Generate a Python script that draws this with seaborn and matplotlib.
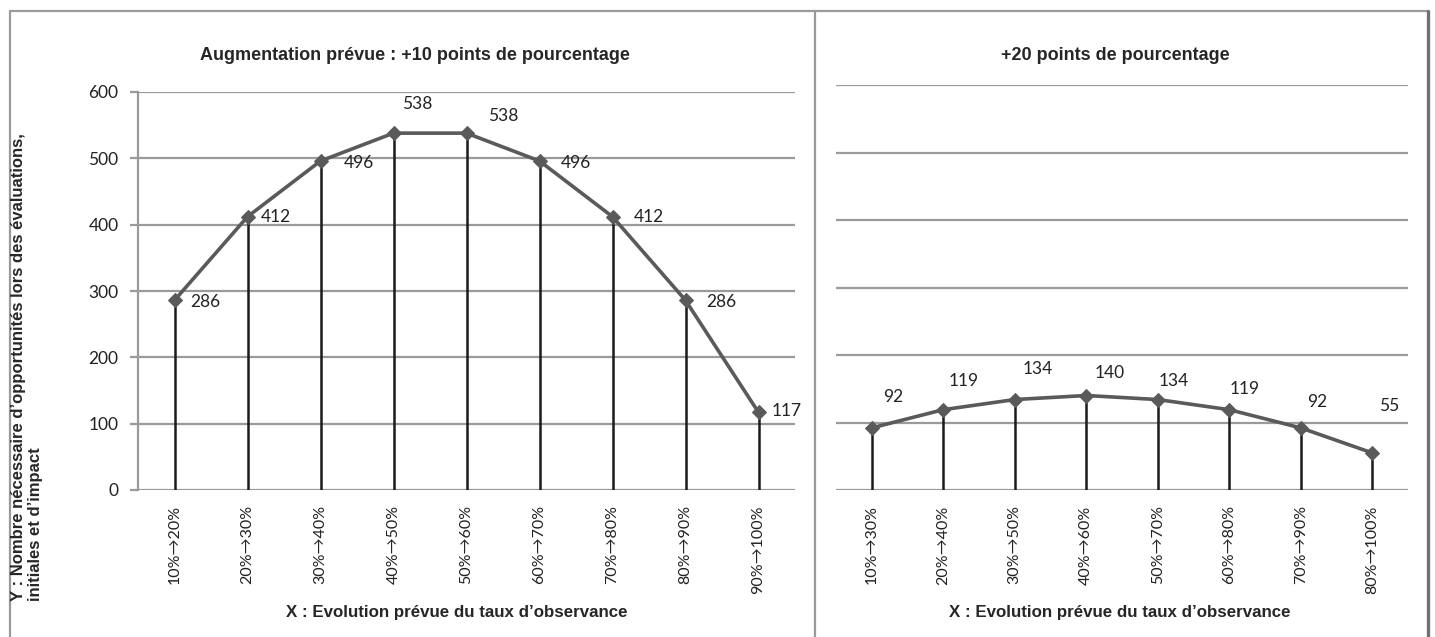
import matplotlib
matplotlib.use('Agg')
import matplotlib.pyplot as plt
import numpy as np
import pandas as pd
import seaborn as sns
from matplotlib.lines import Line2D

# data
cats_10 = ['10%→20%', '20%→30%', '30%→40%', '40%→50%', '50%→60%',
           '60%→70%', '70%→80%', '80%→90%', '90%→100%']
vals_10 = [286, 412, 496, 538, 538, 496, 412, 286, 117]

cats_20 = ['10%→30%', '20%→40%', '30%→50%', '40%→60%', '50%→70%',
           '60%→80%', '70%→90%', '80%→100%']
vals_20 = [92, 119, 134, 140, 134, 119, 92, 55]

y_ticks = [0, 100, 200, 300, 400, 500, 600]

# label offsets in pixels (dx, dy up)
_OFF_10 = [(31, -2), (28, 0), (38, -2), (24, 29), (37, 17), (36, -2), (36, 0), (36, -2), (28, 1)]
_OFF_20 = [(21, 31), (20, 29), (23, 31), (23, 23), (16, 19), (15, 21), (16, 26), (17, 47)]

_LINE = '#5a5a5a'
_GRID = '#9a9a9a'
_TICK_FONT = ['Lato', 'DejaVu Sans']
_BOLD_FONT = ['Liberation Sans', 'DejaVu Sans']

sns.set_style('white')
plt.rcParams['font.family'] = _TICK_FONT

W, H = 1435, 637
fig = plt.figure(figsize=(W / 100, H / 100), dpi=100)


def px_axes(x0, y0, x1, y1):
    return fig.add_axes([x0 / W, (H - y1) / H, (x1 - x0) / W, (y1 - y0) / H])


def draw_panel(ax, cats, vals, offsets, show_y):
    df = pd.DataFrame({'cat': cats, 'val': vals})
    n = len(cats)
    for yt in y_ticks:
        ax.axhline(yt, color=_GRID, lw=1.6, zorder=1)
    ax.vlines(np.arange(n), 0, df['val'], color='#1a1a1a', lw=1.8, zorder=2)
    sns.lineplot(data=df, x='cat', y='val', ax=ax, color=_LINE, lw=2.6,
                 marker='D', markersize=7, markeredgecolor=_LINE, sort=False, zorder=3)
    for i, v in enumerate(vals):
        dx, dy = offsets[i]
        ax.annotate(str(v), (i, v), xytext=(dx, dy), textcoords='offset pixels',
                    ha='center', va='center', fontsize=12.5, color='#222222',
                    family=_TICK_FONT)
    ax.set_xlim(-0.5, n - 0.5)
    ax.set_ylim(0, 600)
    ax.set_xlabel('')
    ax.set_ylabel('')
    for s in ['top', 'right', 'bottom']:
        ax.spines[s].set_visible(False)
    ax.set_xticks(np.arange(n))
    ax.set_xticklabels(cats, rotation=90, fontsize=11.5, color='#222222', family=_TICK_FONT)
    ax.tick_params(axis='x', length=0, pad=11)
    if show_y:
        ax.spines['left'].set_color(_GRID)
        ax.spines['left'].set_linewidth(1.6)
        ax.set_yticks(y_ticks)
        ax.set_yticklabels([str(t) for t in y_ticks], fontsize=12.5, color='#222222')
        ax.tick_params(axis='y', length=6, width=1.6, color=_GRID, pad=8, left=True)
    else:
        ax.spines['left'].set_visible(False)
        ax.set_yticks([])


ax1 = px_axes(138, 92, 795, 490)
draw_panel(ax1, cats_10, vals_10, _OFF_10, True)

ax2 = px_axes(836, 85, 1408, 490)
draw_panel(ax2, cats_20, vals_20, _OFF_20, False)

fig.text(415 / W, 1 - 55 / H, 'Augmentation prévue : +10 points de pourcentage',
         ha='center', va='center', fontsize=13, fontweight='bold', family=_BOLD_FONT)
fig.text(1115 / W, 1 - 55 / H, '+20 points de pourcentage',
         ha='center', va='center', fontsize=13, fontweight='bold', family=_BOLD_FONT)
fig.text(457 / W, 1 - 612 / H, 'X : Evolution prévue du taux d’observance',
         ha='center', va='center', fontsize=12.2, fontweight='bold', family=_BOLD_FONT)
fig.text(1120 / W, 1 - 612 / H, 'X : Evolution prévue du taux d’observance',
         ha='center', va='center', fontsize=12.2, fontweight='bold', family=_BOLD_FONT)
fig.text(27 / W, 1 - 601 / H,
         'Y : Nombre nécessaire d’opportunités lors des évaluations,\ninitiales et d’impact',
         rotation=90, ha='center', va='bottom', multialignment='left',
         fontsize=12, fontweight='bold', family=_BOLD_FONT, linespacing=1.2)

# outer frame and divider
fig.add_artist(Line2D([10 / W, 10 / W], [0, 1 - 11 / H], transform=fig.transFigure, color='#9a9a9a', lw=1.6))
fig.add_artist(Line2D([10 / W, 1428 / W], [1 - 11 / H, 1 - 11 / H], transform=fig.transFigure, color='#9a9a9a', lw=1.6))
fig.add_artist(Line2D([1428 / W, 1428 / W], [0, 1 - 11 / H], transform=fig.transFigure, color='#707070', lw=2.4))
fig.add_artist(Line2D([815 / W, 815 / W], [0, 1 - 11 / H], transform=fig.transFigure, color='#9a9a9a', lw=1.6))

fig.savefig('out.png', dpi=100)
